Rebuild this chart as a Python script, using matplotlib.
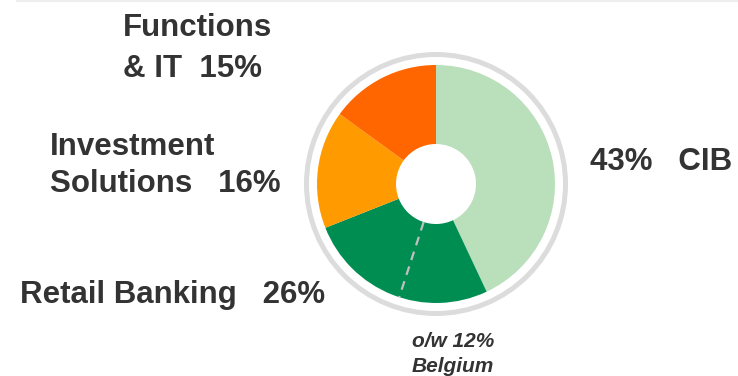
import matplotlib.pyplot as plt
from matplotlib.patches import Circle
import numpy as np

plt.rcParams["font.family"] = ["Liberation Sans", "DejaVu Sans"]

W, H = 738, 376

segments = ["CIB", "Retail Banking", "Investment Solutions", "Functions & IT"]
shares = [43, 26, 16, 15]
belgium_share = 12
colors = ["#b9dfbb", "#008d52", "#ff9a00", "#ff6600"]

# each label line: text, left x, baseline y (px from top)
label_lines = [
    ("43%   CIB", 590, 170),
    ("Retail Banking   26%", 20, 303),
    ("Investment", 50, 155),
    ("Solutions   16%", 50, 192),
    ("Functions", 123, 36),
    ("& IT  15%", 123, 77),
]
sub_lines = [("o/w 12%", 347), ("Belgium", 372)]

TEXT = "#333333"


def main():
    fig = plt.figure(figsize=(W / 100, H / 100), dpi=100)
    ax = fig.add_axes([0, 0, 1, 1])

    cx, cy = 436, H - 184
    r_out, r_in = 119, 40

    ax.pie(shares, colors=colors, startangle=90, counterclock=False,
           radius=r_out, center=(cx, cy),
           wedgeprops=dict(width=r_out - r_in, linewidth=0))

    # grey ring around the donut
    ax.add_patch(Circle((cx, cy), 129.5, fill=False, edgecolor="#dcdcdc", linewidth=3.6))

    # dashed split for Belgium inside Retail Banking
    ang = np.deg2rad(90 - (shares[0] + belgium_share) * 3.6)
    ax.plot([cx + r_in * np.cos(ang), cx + r_out * np.cos(ang)],
            [cy + r_in * np.sin(ang), cy + r_out * np.sin(ang)],
            color="#c0c0c0", linestyle=(0, (4, 3)), linewidth=1.6)

    for text, x, y in label_lines:
        ax.text(x, H - y, text, fontsize=22.5, fontweight="bold", color=TEXT,
                ha="left", va="baseline")

    for text, y in sub_lines:
        ax.text(453, H - y, text, fontsize=15, fontweight="bold", style="italic",
                color=TEXT, ha="center", va="baseline")

    # faint rule along the top edge
    ax.plot([17, W], [H - 0.5, H - 0.5], color="#eeeeee", linewidth=1.5)

    ax.set_xlim(0, W)
    ax.set_ylim(0, H)
    ax.set_aspect("equal")
    ax.axis("off")

    fig.savefig("out.png", dpi=100)


if __name__ == "__main__":
    main()
